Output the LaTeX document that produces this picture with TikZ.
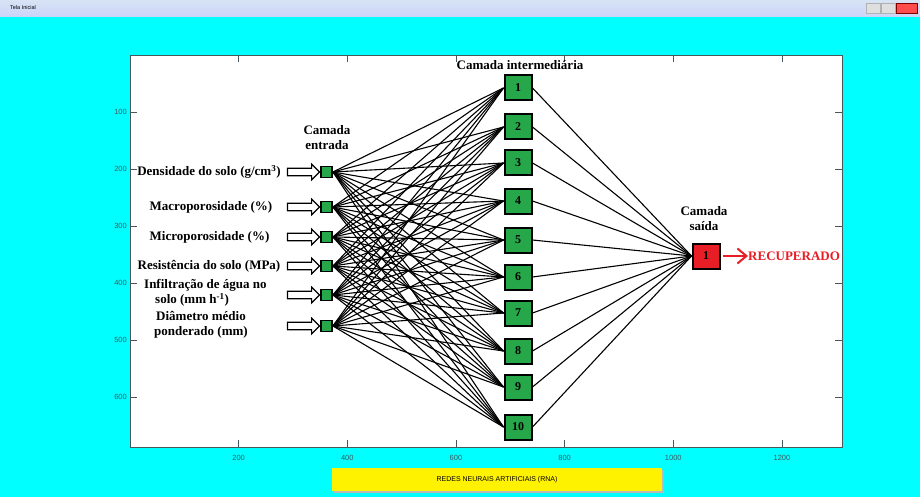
\documentclass[tikz,border=0pt]{standalone}
\usepackage{fontspec}
\setmainfont{Liberation Serif}
\setsansfont{Liberation Sans}
\usepackage{xcolor}
\usetikzlibrary{positioning,arrows.meta,shapes.arrows}

\definecolor{tela}{RGB}{0,255,255}
\definecolor{neurogreen}{RGB}{38,168,74}
\definecolor{neurored}{RGB}{232,30,38}
\definecolor{eixo}{RGB}{70,88,92}
\definecolor{barra}{RGB}{214,228,244}

\begin{document}
\begin{tikzpicture}[x=1pt, y=-1pt,
  entrada/.style={draw, line width=1.8pt, fill=neurogreen, minimum size=11pt, inner sep=0pt},
  oculto/.style={draw, line width=2pt, fill=neurogreen, minimum width=27pt, minimum height=25pt, inner sep=0pt, font=\fontsize{12}{12}\selectfont\bfseries},
  saida/.style={oculto, fill=neurored},
  seta/.style={single arrow, draw, line width=1.2pt, fill=white, minimum height=32pt, single arrow head extend=4pt, inner xsep=0pt, inner ysep=3.2pt},
  rotulo/.style={font=\fontsize{13}{15}\selectfont\bfseries, align=center, inner sep=0pt},
  liga/.style={line width=1.1pt},
  tique/.style={font=\fontsize{7.5}{8}\selectfont\sffamily, text=eixo, inner sep=0pt}
]
  \useasboundingbox (0,0) rectangle (920,497);

  % Window and title bar
  \fill[tela] (0,0) rectangle (920,497);
  \shade[top color=barra, bottom color=barra!80!blue!60!white] (0,0) rectangle (920,17);
  \node[font=\fontsize{5.5}{6}\selectfont\sffamily, anchor=west, inner sep=0pt] (titulo) at (10,8) {Tela Inicial};
  \fill[gray!25, draw=gray!60] (866,3) rectangle (880,13);
  \fill[gray!25, draw=gray!60] (881,3) rectangle (895,13);
  \fill[red!70, draw=red!50!black] (896,3) rectangle (917,13);

  % Axes
  \draw[eixo, line width=0.6pt, fill=white] (130,55) rectangle (842,447);
  \foreach \d [evaluate=\d as \xx using 130+0.5433*\d] in {200,400,...,1200} {
    \draw[eixo, line width=0.5pt] (\xx,447) -- (\xx,440);
    \draw[eixo, line width=0.5pt] (\xx,55) -- (\xx,62);
    \node[tique] (xt\d) at (\xx,458) {\d};
  }
  \foreach \d [evaluate=\d as \yy using 55+0.57*\d] in {100,200,...,600} {
    \draw[eixo, line width=0.5pt] (130,\yy) -- (137,\yy);
    \draw[eixo, line width=0.5pt] (842,\yy) -- (835,\yy);
    \node[tique, anchor=east] (yt\d) at (127,\yy) {\d};
  }

  % Input layer
  \foreach \i/\y in {1/172,2/207,3/237,4/266,5/295,6/326} {
    \node[entrada] (in\i) at (326.5,\y) {};
    \node[seta] (ar\i) at (301.5,\y) {};
  }
  \node[rotulo] (lb1) at (209,172) {Densidade do solo (g/cm\textsuperscript{3})};
  \node[rotulo] (lb2) at (211,207) {Macroporosidade (\%)};
  \node[rotulo] (lb3) at (209.5,237) {Microporosidade (\%)};
  \node[rotulo] (lb4) at (209,266) {Resistência do solo (MPa)};
  \node[rotulo, align=left, anchor=west] (lb5) at (144,293) {Infiltração de água no\\\hspace*{11pt}solo (mm h\textsuperscript{-1})};
  \node[rotulo] (lb6) at (201,324.5) {Diâmetro médio\\ponderado (mm)};
  \node[rotulo] (cam1) at (327,138) {Camada\\entrada};

  % Hidden layer
  \foreach \i/\y in {1/88,2/127,3/163,4/201,5/240,6/277,7/313,8/351,9/387,10/427}
    \node[oculto] (h\i) at (518,\y) {\i};
  \node[rotulo] (cam2) at (520,65) {Camada intermediária};

  % Output layer
  \node[saida] (out) at (706,256) {1};
  \node[rotulo] (cam3) at (704,219) {Camada\\saída};
  \node[rotulo, text=neurored, anchor=west] (rec) at (748,256) {RECUPERADO};
  \draw[neurored, line width=2pt, -{Straight Barb[length=9pt,width=15pt]}] (out.east) ++(2pt,0) -- (rec.west);

  % Connections
  \foreach \i in {1,...,6}
    \foreach \j in {1,...,10}
      \draw[liga] (in\i.east) -- (h\j.west);
  \foreach \j in {1,...,10}
    \draw[liga] (h\j.east) -- (out.west);

  % Bottom panel
  \fill[gray!55] (334,470) rectangle (664,493);
  \node[fill=yellow, minimum width=330pt, minimum height=23pt, inner sep=0pt, font=\fontsize{7}{8}\selectfont\sffamily] (rna) at (497,479.5) {REDES NEURAIS ARTIFICIAIS (RNA)};
\end{tikzpicture}
\end{document}
